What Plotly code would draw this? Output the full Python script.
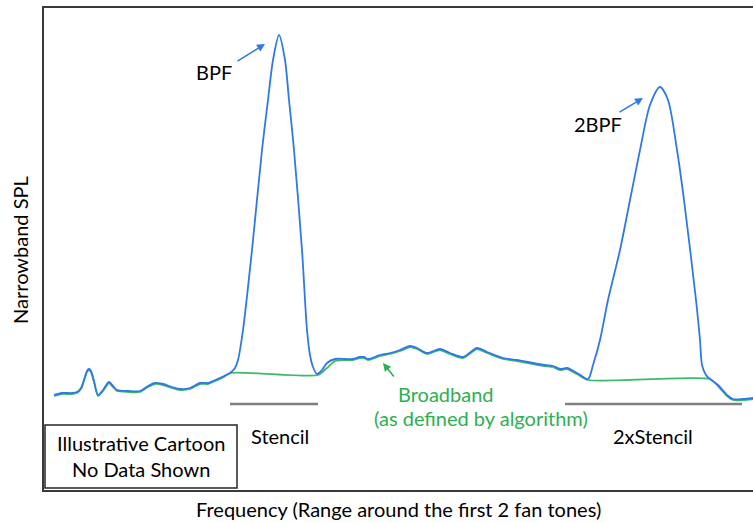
import plotly.graph_objects as go

# Narrowband spectrum (cartoon), arbitrary units
nb_freq = [10, 18, 28, 33, 37, 40, 43, 45, 47, 50, 54, 59, 65, 69, 73, 84, 96, 104, 111, 119, 128, 136, 146,
           156, 164, 169, 178, 186, 191, 194, 199, 208, 218, 224, 229, 235, 241, 245, 250, 258, 263, 266, 269,
           273, 278, 283, 291, 301, 309, 316, 320, 324, 336, 346, 356, 366, 373, 383, 396, 406, 419, 433, 443,
           459, 473, 489, 501, 509, 516, 523, 533, 544, 549, 556, 564, 576, 586, 596, 606, 616, 624, 633, 640, 652,
           656, 658, 662, 666, 674, 683, 689, 699, 709]
nb_spl = [95, 97, 97, 98, 102, 110, 119, 121, 119, 109, 95, 100, 108, 104, 100, 99, 99, 104, 107, 106, 103, 101, 102,
          107, 107, 109, 113, 117, 122, 130, 160, 240, 340, 390, 430, 455, 430, 390, 340, 240, 160, 135, 123,
          116, 120, 127, 131, 131, 131, 133, 133, 131, 135, 137, 140, 144, 142, 137, 141, 137, 133, 142, 138,
          132, 130, 127, 125, 124, 121, 122, 117, 111, 125, 150, 190, 240, 290, 340, 385, 403, 390, 340, 290, 190,
          150, 125, 115, 111, 105, 95, 91, 91, 92]

# Broadband (as defined by algorithm)
bb_freq = [10, 18, 28, 33, 37, 40, 43, 45, 47, 50, 54, 59, 65, 69, 73, 84, 96, 104, 111, 119, 128, 136, 146,
           156, 164, 169, 178, 187, 274, 283, 291, 301, 309, 316, 320, 324, 336, 346, 356, 366, 373, 383, 396,
           406, 419, 433, 443, 459, 473, 489, 501, 509, 516, 523, 533, 544, 666, 674, 683, 689, 699, 709]
bb_spl = [94, 96, 96, 97, 101, 109, 118, 120, 118, 108, 94, 99, 107, 103, 99, 98, 98, 103, 106, 105, 102, 100, 101,
          106, 106, 108, 112, 117, 115, 122, 129, 130, 130, 132, 132, 130, 134, 136, 139, 143, 141, 136, 140,
          136, 132, 141, 137, 131, 129, 126, 124, 123, 120, 121, 116, 110, 111, 104, 94, 90, 90, 91]

# Stencil bands
stencil_names = ["Stencil", "2xStencil"]
stencil_start = [186, 521]
stencil_end = [274, 698]
stencil_label_x = [236, 609]
stencil_level = 86

# Tone labels
tone_names = ["BPF", "2BPF"]
tone_label_x = [170, 554]
tone_label_y = [418, 366]
tone_arrow_tail = [(192, 428), (574, 377)]
tone_arrow_head = [(221, 446), (599, 392)]

BLUE = "#2F78EA"
GREEN = "#3CB96A"
TEXT_GREEN = "#2DB04F"
FONT = "Lato"
FS = 20

fig = go.Figure()
fig.add_trace(go.Scatter(x=bb_freq, y=bb_spl, mode="lines",
                         line=dict(color=GREEN, width=1.8, shape="spline", smoothing=0.6),
                         hoverinfo="skip", showlegend=False))
fig.add_trace(go.Scatter(x=nb_freq, y=nb_spl, mode="lines",
                         line=dict(color=BLUE, width=1.8, shape="spline", smoothing=0.8),
                         hoverinfo="skip", showlegend=False))

annotations = []
for name, lx, ly, (tx, ty), (hx, hy) in zip(tone_names, tone_label_x, tone_label_y,
                                             tone_arrow_tail, tone_arrow_head):
    annotations.append(dict(x=lx, y=ly, text=name, showarrow=False,
                            font=dict(size=FS, color="black", family=FONT)))
    annotations.append(dict(x=hx, y=hy, ax=tx, ay=ty, axref="x", ayref="y", text="",
                            showarrow=True, arrowhead=2, arrowsize=1, arrowwidth=1.6,
                            arrowcolor=BLUE))

# Broadband label and arrow
annotations.append(dict(x=402, y=96, text="Broadband", showarrow=False,
                        font=dict(size=FS, color=TEXT_GREEN, family=FONT)))
annotations.append(dict(x=437, y=72, text="(as defined by algorithm)", showarrow=False,
                        font=dict(size=FS, color=TEXT_GREEN, family=FONT)))
annotations.append(dict(x=339, y=127, ax=351, ay=112, axref="x", ayref="y", text="",
                        showarrow=True, arrowhead=2, arrowsize=1, arrowwidth=1.6,
                        arrowcolor=TEXT_GREEN))

shapes = []
for name, s0, s1, lx in zip(stencil_names, stencil_start, stencil_end, stencil_label_x):
    shapes.append(dict(type="line", x0=s0, x1=s1, y0=stencil_level, y1=stencil_level,
                       line=dict(color="#7F7F7F", width=2.5)))
    annotations.append(dict(x=lx, y=54, text=name, showarrow=False,
                            font=dict(size=FS, color="black", family=FONT)))

# Cartoon disclaimer box
shapes.append(dict(type="rect", x0=1, x1=193, y0=2, y1=65,
                   line=dict(color="#262626", width=1.5), fillcolor="white"))
annotations.append(dict(x=97, y=47, text="Illustrative Cartoon", showarrow=False,
                        font=dict(size=FS, color="black", family=FONT)))
annotations.append(dict(x=97, y=21, text="No Data Shown", showarrow=False,
                        font=dict(size=FS, color="black", family=FONT)))

# Axis titles (paper coordinates so they sit outside the plot area)
annotations.append(dict(x=0.4993, y=-0.0394, xref="paper", yref="paper",
                        xanchor="center", yanchor="middle",
                        text="Frequency (Range around the first 2 fan tones)",
                        showarrow=False, font=dict(size=FS, color="black", family=FONT)))
annotations.append(dict(x=-0.0339, y=0.498, xref="paper", yref="paper",
                        xanchor="center", yanchor="middle",
                        text="Narrowband SPL", textangle=-90,
                        showarrow=False, font=dict(size=FS, color="black", family=FONT)))

fig.update_layout(
    width=753, height=523,
    margin=dict(l=44, r=0, t=8, b=33),
    plot_bgcolor="white", paper_bgcolor="white",
    shapes=shapes, annotations=annotations,
    xaxis=dict(range=[0, 709], showgrid=False, zeroline=False, showticklabels=False,
               ticks="", showline=True, mirror=True, linecolor="#3A3A3A", linewidth=2),
    yaxis=dict(range=[0, 482], showgrid=False, zeroline=False, showticklabels=False,
               ticks="", showline=True, mirror=False, linecolor="#3A3A3A", linewidth=2),
)

fig.write_html("out.html")
